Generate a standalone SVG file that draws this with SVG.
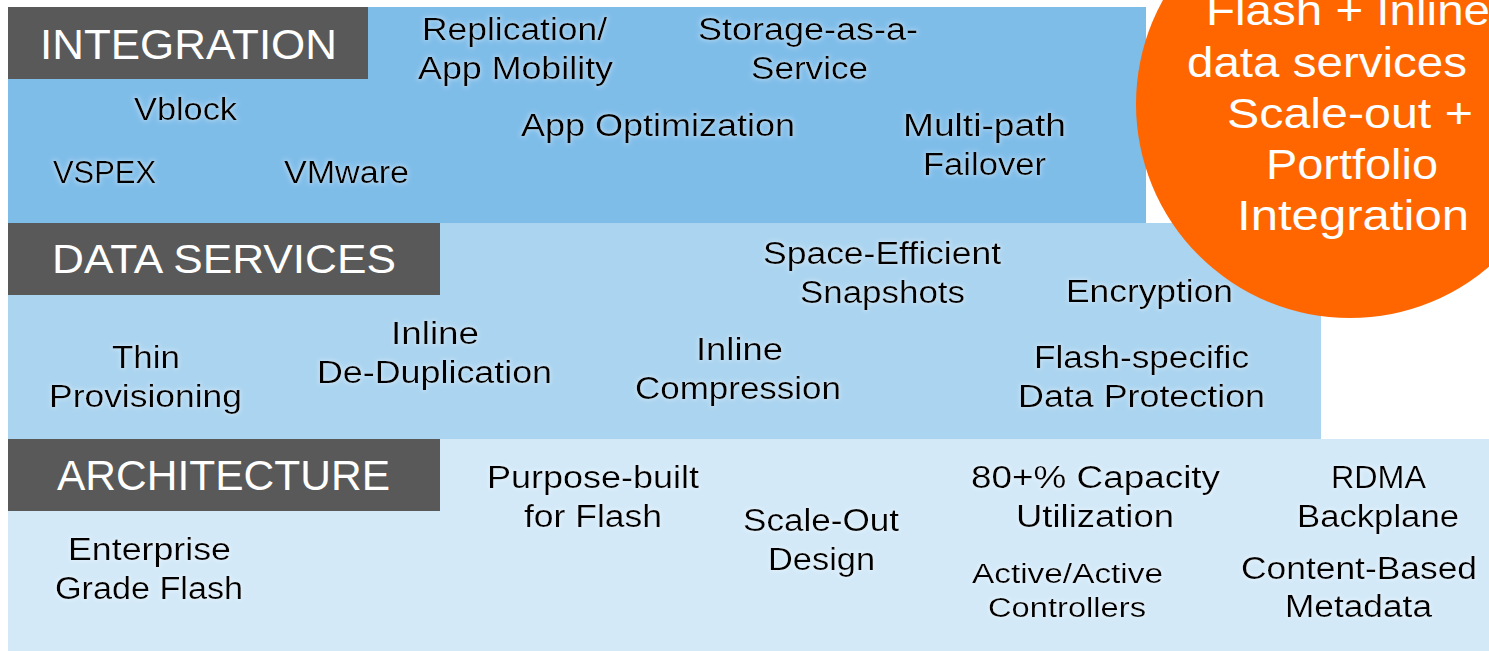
<svg xmlns="http://www.w3.org/2000/svg" width="1489" height="651" viewBox="0 0 1489 651">
  <defs>
    <!-- soft light halo behind the item labels -->
    <filter id="halo" x="-10%" y="-40%" width="120%" height="180%">
      <feMorphology in="SourceAlpha" operator="dilate" radius="1" result="d"/>
      <feGaussianBlur in="d" stdDeviation="2" result="b"/>
      <feFlood flood-color="#ffffff" flood-opacity="0.35"/>
      <feComposite in2="b" operator="in" result="g"/>
      <feMerge><feMergeNode in="g"/><feMergeNode in="SourceGraphic"/></feMerge>
    </filter>
  </defs>
  <style>
    .band-int { fill: #7fbde9; }
    .band-ds { fill: #abd4f0; }
    .band-arch { fill: #d3e9f8; }
    .tab { fill: #595959; }
    .tab-text { font-family: "Liberation Sans", Arial, sans-serif; fill: #ffffff; }
    .item { font-family: "Liberation Sans", Arial, sans-serif; font-size: 31px; fill: #000000; filter: url(#halo); }
    .small { font-size: 27px; }
    .bubble { fill: #ff6600; }
    .bubble-text { font-family: "Liberation Sans", Arial, sans-serif; font-size: 42px; fill: #ffffff; }
  </style>

  <rect width="1489" height="651" fill="#ffffff"/>

  <!-- layer bands -->
  <g id="bands">
    <rect class="band-int" x="8" y="7" width="1138" height="216"/>
    <rect class="band-ds" x="8" y="223" width="1313" height="216"/>
    <rect class="band-arch" x="8" y="439" width="1481" height="212"/>
  </g>

  <!-- layer titles -->
  <g id="tab-integration">
    <rect class="tab" x="8" y="7" width="360" height="72"/>
    <text class="tab-text" x="40" y="59" font-size="43" textLength="297" lengthAdjust="spacingAndGlyphs">INTEGRATION</text>
  </g>
  <g id="tab-data-services">
    <rect class="tab" x="8" y="223" width="432" height="72"/>
    <text class="tab-text" x="52" y="273" font-size="40" textLength="344" lengthAdjust="spacingAndGlyphs">DATA SERVICES</text>
  </g>
  <g id="tab-architecture">
    <rect class="tab" x="8" y="439" width="432" height="72"/>
    <text class="tab-text" x="57" y="490" font-size="42" textLength="333" lengthAdjust="spacingAndGlyphs">ARCHITECTURE</text>
  </g>

  <!-- integration items -->
  <g id="item-replication">
    <text class="item" x="422" y="40" textLength="185" lengthAdjust="spacingAndGlyphs">Replication/</text>
    <text class="item" x="418" y="79" textLength="195" lengthAdjust="spacingAndGlyphs">App Mobility</text>
  </g>
  <g id="item-staas">
    <text class="item" x="698" y="40" textLength="220" lengthAdjust="spacingAndGlyphs">Storage-as-a-</text>
    <text class="item" x="751" y="79" textLength="117" lengthAdjust="spacingAndGlyphs">Service</text>
  </g>
  <g id="item-vblock">
    <text class="item" x="134" y="120" textLength="103" lengthAdjust="spacingAndGlyphs">Vblock</text>
  </g>
  <g id="item-vspex">
    <text class="item" x="53" y="183" textLength="103" lengthAdjust="spacingAndGlyphs">VSPEX</text>
  </g>
  <g id="item-vmware">
    <text class="item" x="284" y="183" textLength="125" lengthAdjust="spacingAndGlyphs">VMware</text>
  </g>
  <g id="item-app-optimization">
    <text class="item" x="521" y="136" textLength="274" lengthAdjust="spacingAndGlyphs">App Optimization</text>
  </g>
  <g id="item-multipath">
    <text class="item" x="903" y="136" textLength="163" lengthAdjust="spacingAndGlyphs">Multi-path</text>
    <text class="item" x="923" y="175" textLength="123" lengthAdjust="spacingAndGlyphs">Failover</text>
  </g>

  <!-- data services items -->
  <g id="item-snapshots">
    <text class="item" x="763" y="264" textLength="238" lengthAdjust="spacingAndGlyphs">Space-Efficient</text>
    <text class="item" x="800" y="303" textLength="165" lengthAdjust="spacingAndGlyphs">Snapshots</text>
  </g>
  <g id="item-encryption">
    <text class="item" x="1066" y="302" textLength="167" lengthAdjust="spacingAndGlyphs">Encryption</text>
  </g>
  <g id="item-dedupe">
    <text class="item" x="391" y="344" textLength="88" lengthAdjust="spacingAndGlyphs">Inline</text>
    <text class="item" x="317" y="383" textLength="235" lengthAdjust="spacingAndGlyphs">De-Duplication</text>
  </g>
  <g id="item-thin">
    <text class="item" x="112" y="368" textLength="68" lengthAdjust="spacingAndGlyphs">Thin</text>
    <text class="item" x="49" y="407" textLength="193" lengthAdjust="spacingAndGlyphs">Provisioning</text>
  </g>
  <g id="item-compression">
    <text class="item" x="696" y="360" textLength="87" lengthAdjust="spacingAndGlyphs">Inline</text>
    <text class="item" x="635" y="399" textLength="206" lengthAdjust="spacingAndGlyphs">Compression</text>
  </g>
  <g id="item-flash-protection">
    <text class="item" x="1034" y="368" textLength="215" lengthAdjust="spacingAndGlyphs">Flash-specific</text>
    <text class="item" x="1018" y="407" textLength="247" lengthAdjust="spacingAndGlyphs">Data Protection</text>
  </g>

  <!-- architecture items -->
  <g id="item-purpose-built">
    <text class="item" x="487" y="488" textLength="212" lengthAdjust="spacingAndGlyphs">Purpose-built</text>
    <text class="item" x="524" y="527" textLength="138" lengthAdjust="spacingAndGlyphs">for Flash</text>
  </g>
  <g id="item-scale-out">
    <text class="item" x="743" y="531" textLength="156" lengthAdjust="spacingAndGlyphs">Scale-Out</text>
    <text class="item" x="768" y="570" textLength="107" lengthAdjust="spacingAndGlyphs">Design</text>
  </g>
  <g id="item-enterprise">
    <text class="item" x="68" y="560" textLength="163" lengthAdjust="spacingAndGlyphs">Enterprise</text>
    <text class="item" x="55" y="599" textLength="188" lengthAdjust="spacingAndGlyphs">Grade Flash</text>
  </g>
  <g id="item-capacity">
    <text class="item" x="971" y="488" textLength="249" lengthAdjust="spacingAndGlyphs">80+% Capacity</text>
    <text class="item" x="1016" y="527" textLength="158" lengthAdjust="spacingAndGlyphs">Utilization</text>
  </g>
  <g id="item-active-active">
    <text class="item small" x="972" y="583" textLength="191" lengthAdjust="spacingAndGlyphs">Active/Active</text>
    <text class="item small" x="988" y="617" textLength="158" lengthAdjust="spacingAndGlyphs">Controllers</text>
  </g>
  <g id="item-rdma">
    <text class="item" x="1331" y="488" textLength="95" lengthAdjust="spacingAndGlyphs">RDMA</text>
    <text class="item" x="1297" y="527" textLength="162" lengthAdjust="spacingAndGlyphs">Backplane</text>
  </g>
  <g id="item-metadata">
    <text class="item" x="1241" y="579" textLength="236" lengthAdjust="spacingAndGlyphs">Content-Based</text>
    <text class="item" x="1285" y="617" textLength="147" lengthAdjust="spacingAndGlyphs">Metadata</text>
  </g>

  <!-- highlight bubble -->
  <g id="bubble">
    <circle class="bubble" cx="1350" cy="104" r="214"/>
    <text class="bubble-text" x="1206" y="25" textLength="284" lengthAdjust="spacingAndGlyphs">Flash + Inline</text>
    <text class="bubble-text" x="1187" y="77" textLength="280" lengthAdjust="spacingAndGlyphs">data services</text>
    <text class="bubble-text" x="1227" y="128" textLength="246" lengthAdjust="spacingAndGlyphs">Scale-out +</text>
    <text class="bubble-text" x="1266" y="179" textLength="172" lengthAdjust="spacingAndGlyphs">Portfolio</text>
    <text class="bubble-text" x="1237" y="230" textLength="232" lengthAdjust="spacingAndGlyphs">Integration</text>
  </g>

  <g id="connectors"/>
</svg>
